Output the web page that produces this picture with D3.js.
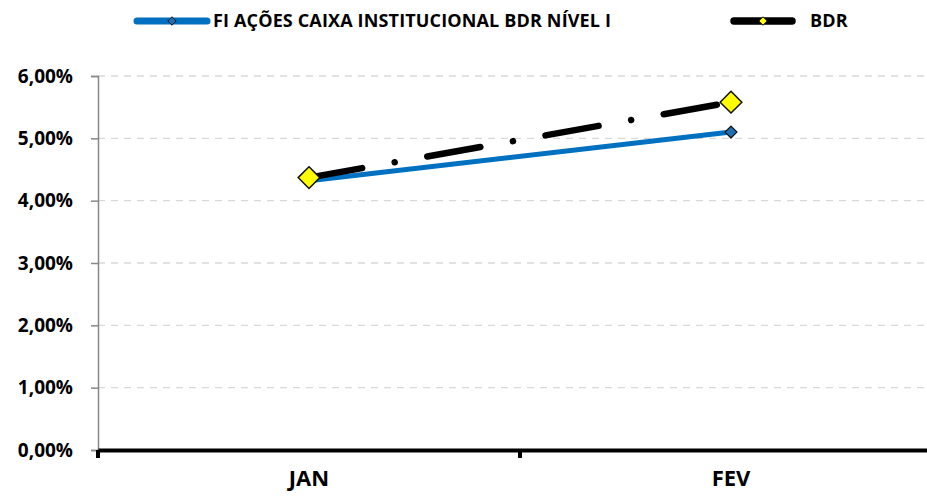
<!DOCTYPE html>
<html>
<head>
<meta charset="utf-8">
<script src="https://cdn.jsdelivr.net/npm/d3@7"></script>
<style>
  body { margin: 0; background: #fff; }
  svg { font-family: "Open Sans", sans-serif; font-weight: bold; }
</style>
</head>
<body>
<svg id="chart" width="927" height="496"></svg>
<script>
var months = ["JAN", "FEV"];
var fundo = [4.32, 5.10];
var bdr = [4.37, 5.58];
var yTicks = [0, 1, 2, 3, 4, 5, 6];
var seriesNames = ["FI AÇÕES CAIXA INSTITUCIONAL BDR NÍVEL I", "BDR"];

var svg = d3.select("#chart"),
    margin = {top: 76, right: -15, bottom: 46, left: 98},
    width = +svg.attr("width") - margin.left - margin.right,
    height = +svg.attr("height") - margin.top - margin.bottom;

var x = d3.scaleBand().domain(months).range([0, width]);
var y = d3.scaleLinear().domain([0, 6]).range([height, 0]);

var g = svg.append("g")
    .attr("transform", "translate(" + margin.left + "," + margin.top + ")");

// gridlines
g.selectAll(".grid")
  .data(yTicks.slice(1))
  .enter().append("line")
    .attr("x1", 0).attr("x2", width)
    .attr("y1", function(d) { return y(d); })
    .attr("y2", function(d) { return y(d); })
    .attr("stroke", "#d9d9d9")
    .attr("stroke-width", 1.3)
    .attr("stroke-dasharray", "7,6");

// y axis
var yAxis = g.append("g")
    .call(d3.axisLeft(y).tickValues(yTicks).tickSize(7).tickPadding(18)
      .tickFormat(function(d) { return d.toFixed(2).replace(".", ",") + "%"; }));
yAxis.select(".domain").attr("stroke", "#888").attr("stroke-width", 1.5);
yAxis.selectAll(".tick line").attr("stroke", "#888").attr("stroke-width", 1.5);
yAxis.selectAll("text").attr("font-size", 19).attr("fill", "#000")
    .attr("font-family", "Open Sans").attr("font-weight", "bold");

// x axis
var xAxis = g.append("g")
    .attr("transform", "translate(0," + height + ")")
    .call(d3.axisBottom(x).tickSize(0).tickPadding(24));
xAxis.select(".domain").attr("stroke", "#000").attr("stroke-width", 4);
xAxis.selectAll("text").attr("font-size", 22).attr("fill", "#000")
    .attr("dy", "0.55em")
    .attr("font-family", "Open Sans").attr("font-weight", "bold");
g.selectAll(".xtick")
  .data(months)
  .enter().append("line")
    .attr("x1", function(d) { return x(d); })
    .attr("x2", function(d) { return x(d); })
    .attr("y1", height).attr("y2", height + 8)
    .attr("stroke", "#000").attr("stroke-width", 4);

var cx = function(d, i) { return x(months[i]) + x.bandwidth() / 2; };
var line = d3.line().x(cx).y(function(d) { return y(d); });

// fund series
g.append("path")
  .datum(fundo)
  .attr("d", line)
  .attr("fill", "none")
  .attr("stroke", "#0070C0")
  .attr("stroke-width", 5);

// BDR series
g.append("path")
  .datum(bdr)
  .attr("d", line)
  .attr("fill", "none")
  .attr("stroke", "#000")
  .attr("stroke-width", 6.5)
  .attr("stroke-linecap", "round")
  .attr("stroke-dasharray", "54,33,0.1,33");

var diamond = d3.symbol().type(d3.symbolDiamond2);

g.selectAll(".m1")
  .data(fundo)
  .enter().append("path")
    .attr("d", diamond.size(90)())
    .attr("transform", function(d, i) { return "translate(" + cx(d, i) + "," + y(d) + ")"; })
    .attr("fill", "#1f6fb5")
    .attr("stroke", "#111")
    .attr("stroke-width", 1.2);

g.selectAll(".m2")
  .data(bdr)
  .enter().append("path")
    .attr("d", diamond.size(300)())
    .attr("transform", function(d, i) { return "translate(" + cx(d, i) + "," + y(d) + ")"; })
    .attr("fill", "#ffff00")
    .attr("stroke", "#111")
    .attr("stroke-width", 1.5);

// legend
var leg = svg.append("g");
var items = [
  {name: seriesNames[0], x1: 137, x2: 207, color: "#0070C0", w: 7, mfill: "#1f6fb5", msize: 45, tx: 213},
  {name: seriesNames[1], x1: 734, x2: 792, color: "#000", w: 7.5, mfill: "#ffff00", msize: 45, tx: 810}
];
items.forEach(function(it) {
  leg.append("line")
    .attr("x1", it.x1).attr("x2", it.x2)
    .attr("y1", 21).attr("y2", 21)
    .attr("stroke", it.color).attr("stroke-width", it.w)
    .attr("stroke-linecap", "round");
  leg.append("path")
    .attr("d", diamond.size(it.msize)())
    .attr("transform", "translate(" + ((it.x1 + it.x2) / 2) + ",21)")
    .attr("fill", it.mfill)
    .attr("stroke", "#111")
    .attr("stroke-width", 1);
  leg.append("text")
    .attr("x", it.tx).attr("y", 27)
    .attr("font-size", 18)
    .attr("letter-spacing", 0.15)
    .text(it.name);
});
</script>
</body>
</html>
